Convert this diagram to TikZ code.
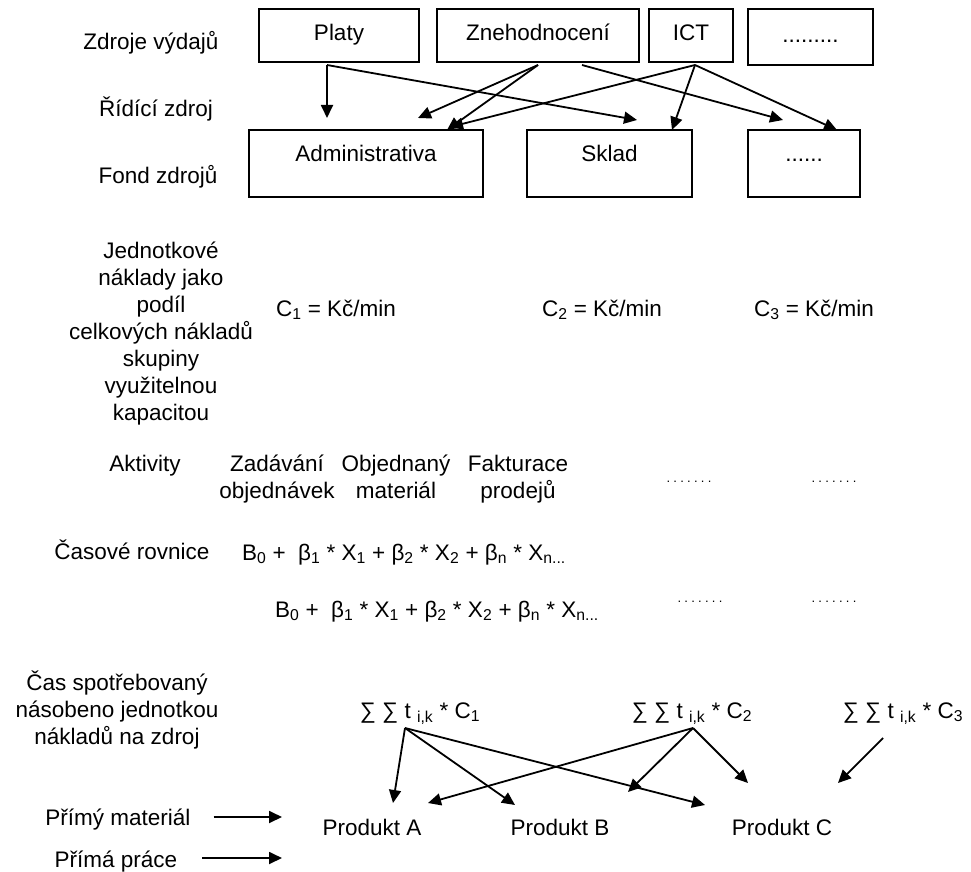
\documentclass[tikz,border=0pt]{standalone}
\usepackage{fontspec}
\setmainfont{Liberation Sans}
\usetikzlibrary{arrows.meta}
% centred multi-line text whose baseline is that of its first line
\newcommand\stackc[1]{\begin{tabular}[t]{@{}c@{}}#1\end{tabular}}

\begin{document}
\begin{tikzpicture}[x=1pt,y=-1pt,
  every node/.style={inner sep=0pt, outer sep=0pt, font=\fontsize{22.5}{27}\selectfont},
  lbl/.style={anchor=base},
  topbox/.style={draw, line width=1.8pt, inner xsep=0pt, inner ysep=16pt,
    text height=16pt, text depth=5pt},
  fundbox/.style={draw, line width=1.8pt, inner xsep=0pt, inner ysep=16pt,
    text height=15pt, text depth=20pt},
  dotfont/.style={font=\fontsize{13}{15}\selectfont\addfontfeature{LetterSpace=25}},
  arr/.style={-{Triangle[length=13pt,width=12pt]}, line width=1.8pt},
]
\path[use as bounding box] (0,0) rectangle (971,872);

% expense sources
\node[topbox, minimum width=160pt] (platy) at (339,35.5) {Platy};
\node[topbox, minimum width=202pt] (zneh) at (538,35.5) {Znehodnocení};
\node[topbox, minimum width=84pt] (ict) at (691,35.5) {ICT};
\node[topbox, minimum width=125pt, minimum height=56pt] (dotsA) at (810.5,37) {.........};

% resource pools
\node[fundbox, minimum width=234pt] (adm) at (366,163.5) {Administrativa};
\node[fundbox, minimum width=165pt] (sklad) at (609.5,163.5) {Sklad};
\node[fundbox, minimum width=112pt] (dotsB) at (804,163.5) {......};

% row labels
\node[lbl] (zdroje) at (151,50) {Zdroje výdajů};
\node[lbl] (ridici) at (156,117) {Řídící zdroj};
\node[lbl] (fond) at (158,183) {Fond zdrojů};

% resource drivers
\draw[arr] ([xshift=68pt,yshift=-3pt]platy.south west) -- ([xshift=78pt,yshift=12pt]adm.north west);
\draw[arr] ([xshift=68pt,yshift=-3pt]platy.south west) -- ([xshift=110pt,yshift=10pt]sklad.north west);
\draw[arr] ([xshift=101pt,yshift=-3pt]zneh.south west) -- ([xshift=169pt,yshift=12pt]adm.north west);
\draw[arr] ([xshift=101pt,yshift=-3pt]zneh.south west) -- ([xshift=198pt]adm.north west);
\draw[arr] ([xshift=145pt,yshift=-3pt]zneh.south west) -- ([xshift=35pt,yshift=10pt]dotsB.north west);
\draw[arr] ([xshift=46pt,yshift=-3pt]ict.south west) -- ([xshift=201pt,yshift=3pt]adm.north west);
\draw[arr] ([xshift=46pt,yshift=-3pt]ict.south west) -- ([xshift=145pt]sklad.north west);
\draw[arr] ([xshift=46pt,yshift=-3pt]ict.south west) -- ([xshift=89pt]dotsB.north west);

% unit costs
\node[lbl] (jedn) at (161,258) {\stackc{Jednotkové\\náklady jako\\podíl\\celkových nákladů\\skupiny\\využitelnou\\kapacitou}};
\node[lbl] (c1) at (336,316) {C\textsubscript{1} = Kč/min};
\node[lbl] (c2) at (602,316) {C\textsubscript{2} = Kč/min};
\node[lbl] (c3) at (814,316) {C\textsubscript{3} = Kč/min};

% activities
\node[lbl] (akt) at (145,471) {Aktivity};
\node[lbl] (zad) at (277,471) {\stackc{Zadávání\\objednávek}};
\node[lbl] (obj) at (396,471) {\stackc{Objednaný\\materiál}};
\node[lbl] (fakt) at (518,471) {\stackc{Fakturace\\prodejů}};
\node[lbl, dotfont] (aktd1) at (689,482) {.......};
\node[lbl, dotfont] (aktd2) at (834,482) {.......};

% time equations
\node[lbl] (cas) at (132,559) {Časové rovnice};
\node[anchor=base west] (eq1) at (242,560) {B\textsubscript{0} +\ \ β\textsubscript{1} * X\textsubscript{1} + β\textsubscript{2} * X\textsubscript{2} + β\textsubscript{n} * X\textsubscript{n...}};
\node[anchor=base west] (eq2) at (275,617) {B\textsubscript{0} +\ \ β\textsubscript{1} * X\textsubscript{1} + β\textsubscript{2} * X\textsubscript{2} + β\textsubscript{n} * X\textsubscript{n...}};
\node[lbl, dotfont] (eqd1) at (700,602) {.......};
\node[lbl, dotfont] (eqd2) at (834,602) {.......};

% consumed time times unit cost
\node[lbl] (spotr) at (117,690) {\stackc{Čas spotřebovaný\\násobeno jednotkou\\nákladů na zdroj}};
\node[lbl] (s1) at (420,718) {∑ ∑ t \textsubscript{i,k} * C\textsubscript{1}};
\node[lbl] (s2) at (692,718) {∑ ∑ t \textsubscript{i,k} * C\textsubscript{2}};
\node[lbl] (s3) at (903,718) {∑ ∑ t \textsubscript{i,k} * C\textsubscript{3}};

% products
\node[lbl] (pA) at (372,835) {Produkt A};
\node[lbl] (pB) at (560,835) {Produkt B};
\node[lbl] (pC) at (782,835) {Produkt C};

\draw[arr] ([xshift=-15pt,yshift=-10pt]s1.base) -- ([xshift=21pt,yshift=32pt]pA.base);
\draw[arr] ([xshift=-15pt,yshift=-10pt]s1.base) -- ([xshift=-45pt,yshift=30pt]pB.base);
\draw[arr] ([xshift=-15pt,yshift=-10pt]s1.base) -- ([xshift=-77pt,yshift=30pt]pC.base);
\draw[arr] ([xshift=1pt,yshift=-10pt]s2.base) -- ([xshift=56pt,yshift=32pt]pA.base);
\draw[arr] ([xshift=1pt,yshift=-10pt]s2.base) -- ([xshift=68pt,yshift=43pt]pB.base);
\draw[arr] ([xshift=1pt,yshift=-10pt]s2.base) -- ([xshift=-34pt,yshift=52pt]pC.base);
\draw[arr] ([xshift=-20pt,yshift=-20pt]s3.base) -- ([xshift=56pt,yshift=52pt]pC.base);

% direct costs
\node[lbl] (pm) at (118,825) {Přímý materiál};
\node[lbl] (pp) at (116,867) {Přímá práce};
\coordinate (pmend) at (282,817);
\coordinate (ppend) at (282,858);
\draw[arr] ([xshift=23pt,yshift=8pt]pm.base east) -- (pmend);
\draw[arr] ([xshift=25pt,yshift=9pt]pp.base east) -- (ppend);
\end{tikzpicture}
\end{document}
